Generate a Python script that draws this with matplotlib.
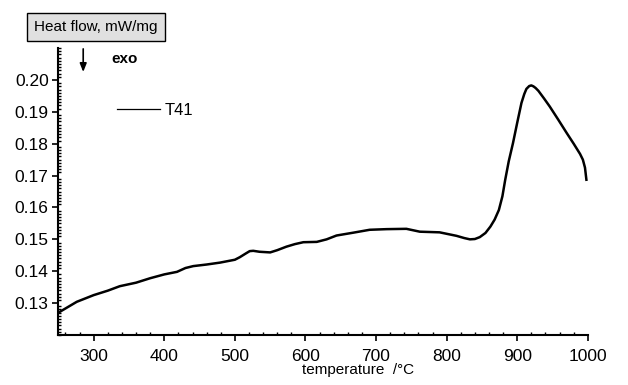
import matplotlib
matplotlib.use("Agg")
import matplotlib.pyplot as plt
from matplotlib.lines import Line2D
from matplotlib.patches import FancyArrowPatch
from matplotlib.ticker import MultipleLocator

plt.rcParams['font.family'] = ['Liberation Sans', 'DejaVu Sans']

# DSC trace (temperature in deg C, heat flow in mW/mg)
temperature = [250, 276, 300, 320, 337, 360, 380, 400, 418, 430, 441, 460, 479,
               500, 507, 515, 521, 526, 535, 550, 560, 573, 585, 597, 616, 630,
               644, 668, 691, 715, 743, 762, 790, 814, 825, 833, 840, 847, 855,
               862, 868, 874, 879, 883, 888, 894, 900, 906, 910, 913, 917, 920,
               923, 926, 930, 938, 946, 958, 970, 980, 989, 993, 996, 998]
heat_flow = [0.1270, 0.1304, 0.1325, 0.1339, 0.1353, 0.1364, 0.1378, 0.1390,
             0.1398, 0.1410, 0.1416, 0.1421, 0.1427, 0.1436, 0.1444, 0.1455,
             0.1463, 0.1464, 0.1461, 0.1459, 0.1466, 0.1477, 0.1485, 0.1491,
             0.1492, 0.1500, 0.1512, 0.1521, 0.1530, 0.1532, 0.1533, 0.1524,
             0.1522, 0.1511, 0.1504, 0.1500, 0.1501, 0.1507, 0.1520, 0.1540,
             0.1562, 0.1592, 0.1635, 0.1687, 0.1745, 0.1802, 0.1866, 0.1928,
             0.1956, 0.1972, 0.1981, 0.1983, 0.1980, 0.1975, 0.1966, 0.1942,
             0.1917, 0.1876, 0.1834, 0.1800, 0.1768, 0.1750, 0.1725, 0.1687]
series_name = "T41"

xticks = [300, 400, 500, 600, 700, 800, 900, 1000]
yticks = [0.13, 0.14, 0.15, 0.16, 0.17, 0.18, 0.19, 0.20]

fig = plt.figure(figsize=(6.28, 3.85), dpi=100)
ax = fig.add_axes([0.093, 0.13, 0.843, 0.745])

ax.plot(temperature, heat_flow, color='black', lw=1.8)

ax.set_xlim(250, 1000)
ax.set_ylim(0.12, 0.21)
ax.set_xticks(xticks)
ax.set_yticks(yticks)
ax.set_yticklabels([f"{v:.2f}" for v in yticks])
ax.xaxis.set_minor_locator(MultipleLocator(20))
ax.yaxis.set_minor_locator(MultipleLocator(0.001))
ax.tick_params(axis='both', which='major', direction='out', length=4, width=1.2,
               labelsize=12.5)
ax.tick_params(axis='y', which='major', pad=3)
ax.tick_params(axis='x', which='major', pad=6)
ax.tick_params(axis='both', which='minor', direction='in', length=2, width=1)
ax.spines['top'].set_visible(False)
ax.spines['right'].set_visible(False)
ax.spines['left'].set_linewidth(1.5)
ax.spines['bottom'].set_linewidth(1.5)

# axis captions
fig.text(0.57, 0.02, "temperature  /\u00b0C", fontsize=11, ha='center', va='bottom')
fig.text(0.153, 0.93, "Heat flow, mW/mg", fontsize=11, ha='center', va='center',
         bbox=dict(boxstyle='square,pad=0.45', facecolor='#e0e0e0', edgecolor='black', lw=1))
fig.text(0.178, 0.848, "exo", fontsize=11, fontweight='bold', ha='left', va='center')
fig.patches.append(FancyArrowPatch(
    (0.1325, 0.873), (0.1325, 0.813), transform=fig.transFigure,
    arrowstyle='-|>,head_length=5,head_width=2', color='black', lw=1.2,
    shrinkA=0, shrinkB=0))

handle = Line2D([], [], color='black', lw=0.9)
ax.legend([handle], [series_name], loc='center left', bbox_to_anchor=(0.11, 0.782),
          frameon=False, fontsize=12, handlelength=2.6, handletextpad=0.3,
          borderpad=0, borderaxespad=0)

fig.savefig("out.png", dpi=100)
